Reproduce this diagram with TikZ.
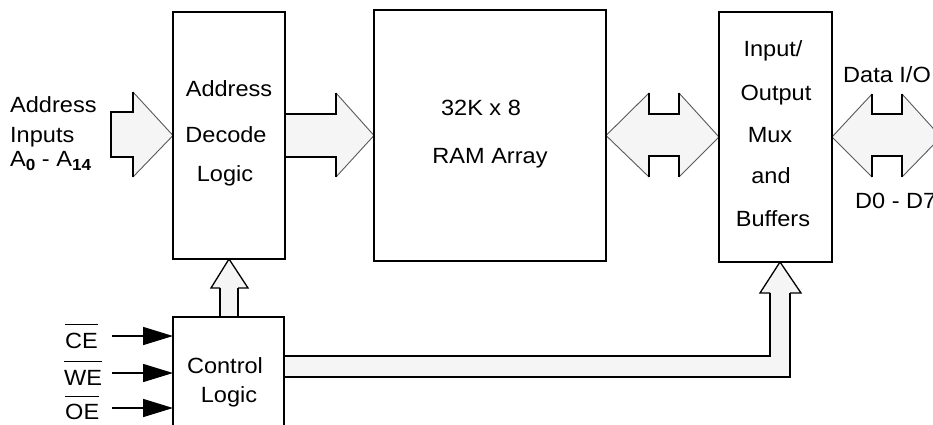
\documentclass[tikz,border=0pt]{standalone}
\usepackage{fontspec}
\setmainfont{Liberation Sans}[FakeStretch=1.07]
\usetikzlibrary{arrows.meta}
\pgfdeclarelayer{bg}
\pgfsetlayers{bg,main}
\newcommand{\subb}[1]{\raisebox{-4pt}{\fontsize{16}{18}\selectfont\bfseries #1}}
\begin{document}
\begin{tikzpicture}[x=1pt,y=-1pt,
  box/.style={draw, line width=2.7pt, inner sep=0pt, outer sep=0pt},
  txt/.style={anchor=base, inner sep=0pt, font=\fontsize{22}{26}\selectfont},
  txtl/.style={txt, anchor=base west},
  bfill/.style={fill=black!4, draw=none},
  hd/.style={draw=black!65, line width=0.9pt, line join=miter},
  sh/.style={draw=black, line width=2pt, line join=miter},
  sig/.style={line width=1.5pt, -{Triangle[length=30pt,width=18pt]}},
  ovl/.style={line width=1.3pt}]
\useasboundingbox (0,0) rectangle (933,425);

% boxes
\node[box, minimum width=112pt, minimum height=247pt] (dec) at (229,135.5) {};
\node[box, minimum width=232pt, minimum height=251pt] (ram) at (490,135.5) {};
\node[box, minimum width=113pt, minimum height=250pt] (io) at (775.5,137) {};
\node[box, minimum width=111pt, minimum height=130pt] (ctl) at (228.5,382) {};

% box texts
\node[txt] (t1) at (229,97) {Address};
\node[txt] (t2) at (226,142) {Decode};
\node[txt] (t3) at (225,181) {Logic};
\node[txt] (t4) at (481,115) {32K x 8};
\node[txt] (t5) at (490,163) {RAM Array};
\node[txt] (t6) at (773,57) {Input/};
\node[txt] (t7) at (776,101) {Output};
\node[txt] (t8) at (770,142) {Mux};
\node[txt] (t9) at (771,183) {and};
\node[txt] (t10) at (773,226) {Buffers};
\node[txt] (t11) at (225,373) {Control};
\node[txt] (t12) at (229,402) {Logic};

% outside labels
\node[txtl] (ai1) at (10,113) {Address};
\node[txtl] (ai2) at (10,142) {Inputs};
\node[txtl] (ai3) at (10,166) {A\subb{0} - A\subb{14}};
\node[txtl] (dio) at (843,83) {Data I/O};
\node[txtl] (dd) at (855,208) {D0 - D7};
\node[txtl] (ce) at (65,348) {CE};
\node[txtl] (we) at (64,385) {WE};
\node[txtl] (oe) at (65,419) {OE};
\draw[ovl] ([yshift=8pt]ce.north west) -- ([yshift=8pt]ce.north east);
\draw[ovl] ([yshift=8pt]we.north west) -- ([yshift=8pt]we.north east);
\draw[ovl] ([yshift=7pt]oe.north west) -- ([yshift=7pt]oe.north east);

% control signal arrows
\coordinate (ceA) at (112,336);
\coordinate (weA) at (112,373);
\coordinate (oeA) at (112,408);
\draw[sig] (ceA) -- (ceA -| ctl.west);
\draw[sig] (weA) -- (weA -| ctl.west);
\draw[sig] (oeA) -- (oeA -| ctl.west);

\begin{pgfonlayer}{bg}
% address input arrow
\path[bfill] (111,112) -- (133,112) -- (133,92) -- (dec.west) -- (133,177) -- (133,157) -- (111,157) -- cycle;
\draw[hd] (133,92) -- (dec.west) -- (133,177);
\draw[sh] (133,92) -- (133,112) -- (111,112) -- (111,157) -- (133,157) -- (133,177);

% decode -> RAM
\path[bfill] (285,114) -- (336,114) -- (336,93) -- (ram.west) -- (336,177) -- (336,157) -- (285,157) -- cycle;
\draw[hd] (336,93) -- (ram.west) -- (336,177);
\draw[sh] (285,114) -- (336,114) -- (336,93);
\draw[sh] (285,157) -- (336,157) -- (336,177);

% RAM <-> IO
\path[bfill] (ram.east) -- (649,93) -- (649,114) -- (679,114) -- (679,93) -- (io.west) -- (679,177) -- (679,156) -- (649,156) -- (649,177) -- cycle;
\draw[hd] (649,93) -- (ram.east) -- (649,177);
\draw[hd] (679,93) -- (io.west) -- (679,177);
\draw[sh] (649,93) -- (649,114) -- (679,114) -- (679,93);
\draw[sh] (649,177) -- (649,156) -- (679,156) -- (679,177);

% IO <-> Data
\path[bfill] (io.east) -- (872,94) -- (872,114) -- (902,114) -- (902,94) -- (941,137) -- (902,177) -- (902,156) -- (872,156) -- (872,177) -- cycle;
\draw[hd] (872,94) -- (io.east) -- (872,177);
\draw[hd] (902,94) -- (941,137) -- (902,177);
\draw[sh] (872,94) -- (872,114) -- (902,114) -- (902,94);
\draw[sh] (872,177) -- (872,156) -- (902,156) -- (902,177);

% control -> decode
\path[bfill] (220,317) -- (220,288) -- (211,288) -- (dec.south) -- (248,288) -- (238,288) -- (238,317) -- cycle;
\draw[hd, draw=black, line width=1.3pt] (220,288) -- (211,288) -- (dec.south) -- (248,288) -- (238,288);
\draw[sh, line width=1.6pt] (220,317) -- (220,288);
\draw[sh, line width=1.6pt] (238,317) -- (238,288);

% control -> IO bus
\path[bfill] (284,356) -- (770,356) -- (770,293) -- (760,293) -- (780,262) -- (801,293) -- (790,293) -- (790,377) -- (284,377) -- cycle;
\draw[hd, draw=black, line width=1.3pt] (770,293) -- (760,293) -- (780,262) -- (801,293) -- (790,293);
\draw[sh] (284,356) -- (770,356) -- (770,293);
\draw[sh] (790,293) -- (790,377) -- (284,377);
\end{pgfonlayer}
\end{tikzpicture}
\end{document}
